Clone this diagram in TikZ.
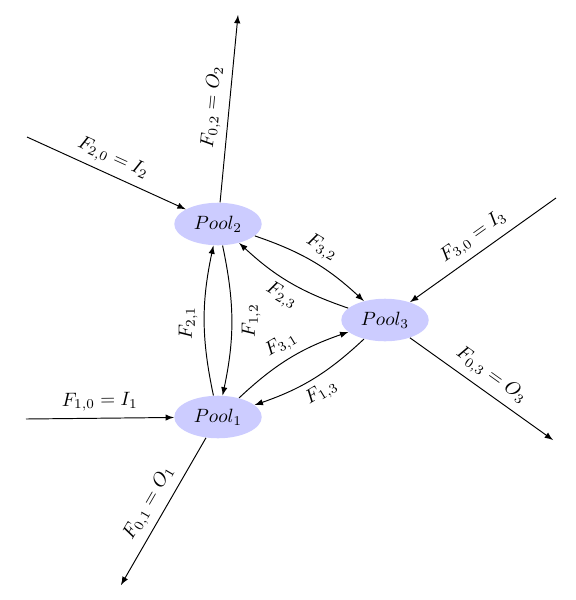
\documentclass[tikz,border=0pt]{standalone}
\usetikzlibrary{shapes.geometric,arrows}
\begin{document}
\begin{tikzpicture}[x=0.52pt,y=-0.52pt,
  pool/.style={ellipse, fill=blue!20, inner sep=3.6pt},
  flow/.style={-latex, line width=0.5pt},
  lbl/.style={sloped, midway}]
\useasboundingbox (0,0) rectangle (576,600);
\node[pool] (p2) at (218,224) {$Pool_2$};
\node[pool] (p1) at (218,417) {$Pool_1$};
\node[pool] (p3) at (385,320) {$Pool_3$};
\coordinate (i2) at (27,137);
\coordinate (o2) at (238,15);
\coordinate (i1) at (26,419);
\coordinate (o1) at (121,585);
\coordinate (i3) at (556,198);
\coordinate (o3) at (553,440);
% external flows
\draw[flow] (i2) -- node[lbl,above]{$F_{2,0}=I_2$} (p2);
\draw[flow] (p2) -- node[lbl,above]{$F_{0,2}=O_2$} (o2);
\draw[flow] (i1) -- node[lbl,above]{$F_{1,0}=I_1$} (p1);
\draw[flow] (p1) -- node[lbl,above]{$F_{0,1}=O_1$} (o1);
\draw[flow] (i3) -- node[lbl,above]{$F_{3,0}=I_3$} (p3);
\draw[flow] (p3) -- node[lbl,above]{$F_{0,3}=O_3$} (o3);
% internal flows
\draw[flow] (p1) to[bend left=12] node[pos=0.48, rotate=90, anchor=south]{$F_{2,1}$} (p2);
\draw[flow] (p2) to[bend left=12] node[pos=0.5, rotate=90, anchor=north, inner sep=5pt]{$F_{1,2}$} (p1);
\draw[flow] (p2) to[bend left=12] node[lbl,above]{$F_{3,2}$} (p3);
\draw[flow] (p3) to[bend left=12] node[lbl,below]{$F_{2,3}$} (p2);
\draw[flow] (p1) to[bend left=12] node[lbl,above]{$F_{3,1}$} (p3);
\draw[flow] (p3) to[bend left=12] node[lbl,below]{$F_{1,3}$} (p1);
\end{tikzpicture}
\end{document}
